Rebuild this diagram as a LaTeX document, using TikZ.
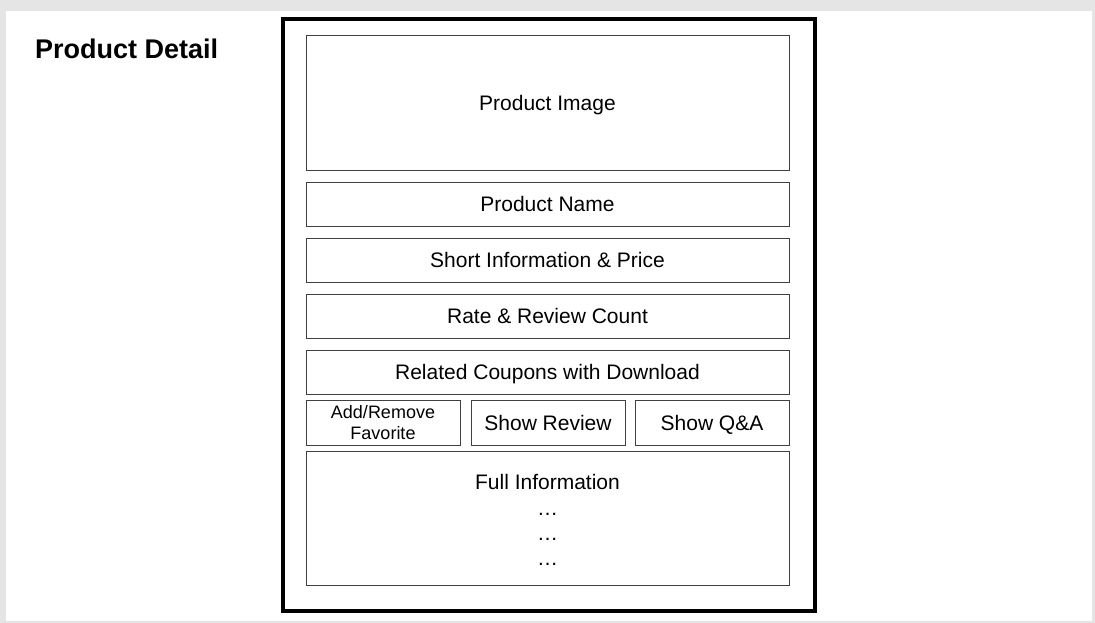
\documentclass[tikz,border=0pt]{standalone}
\usepackage{fontspec}
\setmainfont{Liberation Sans}
\usepackage{tikz}
\usetikzlibrary{positioning}
\tikzset{box/.style={draw=black!75,line width=1pt,rectangle,inner sep=0pt,
  minimum width=483pt,minimum height=44pt,font=\fontsize{21}{25}\selectfont},
  panel/.style={box,text height=17pt,text depth=2pt},
  smallbox/.style={minimum width=154pt,minimum height=45pt},
  infotext/.style={font=\fontsize{21}{25}\selectfont,text height=17pt,text depth=2pt}}

\begin{document}
\begin{tikzpicture}[x=1pt,y=-1pt,line cap=round]

  \fill [black!10] (0,0) rectangle (1095,623);
  \fill [white] (6,11) rectangle (1092,621);
  \useasboundingbox (0,0) rectangle (1095,623);

  \draw (35,49) node [anchor=west,inner sep=0pt,font=\bfseries\fontsize{27}{30}\selectfont] (title) {Product Detail};

  % phone frame
  \draw [line width=4pt,line cap=butt] (283,19) rectangle (815,611);

  \draw (547.5,103) node [panel,minimum height=134pt] (image) {Product Image};
  \draw (547.5,204) node [panel] (name) {Product Name};
  \draw (547.5,260) node [panel] (info) {Short Information \& Price};
  \draw (547.5,316) node [panel] (rate) {Rate \& Review Count};
  \draw (547.5,372) node [panel] (coupons) {Related Coupons with Download};

  \draw (383,422.5) node [box,smallbox,font=\fontsize{18}{21}\selectfont,align=center] (favorite) {Add/Remove\\Favorite};
  \draw (548,422.5) node [panel,smallbox] (review) {Show Review};
  \draw (712,422.5) node [panel,smallbox] (qna) {Show Q\&A};

  \draw (547.5,518) node [box,minimum height=134pt] (full) {};
  \draw (547.5,482) node [infotext] (fulltext) {Full Information};
  \draw (547.5,508) node [infotext] (dotsa) {\dots};
  \draw (547.5,533) node [infotext] (dotsb) {\dots};
  \draw (547.5,558) node [infotext] (dotsc) {\dots};

\end{tikzpicture}
\end{document}
